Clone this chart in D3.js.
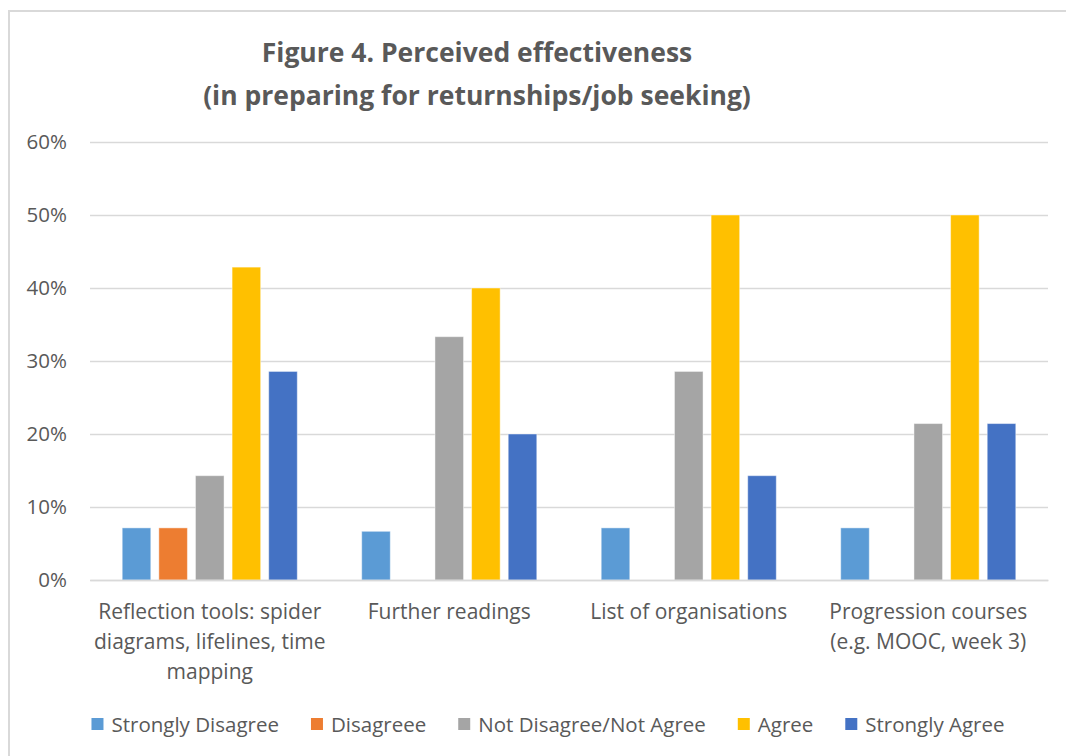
<!DOCTYPE html>
<html>
<head>
<meta charset="utf-8">
<script src="https://cdn.jsdelivr.net/npm/d3@7"></script>
<style>
  html, body { margin: 0; padding: 0; background: #fff; }
  svg { display: block; }
  text { font-family: "Open Sans", "Liberation Sans", sans-serif; fill: #595959; }
</style>
</head>
<body>
<svg id="chart" width="1066" height="756"></svg>
<script>
// ---- data ----
const categories = [
  ["Reflection tools: spider", "diagrams, lifelines, time", "mapping"],
  ["Further readings"],
  ["List of organisations"],
  ["Progression courses", "(e.g. MOOC, week 3)"]
];
const seriesNames = ["Strongly Disagree", "Disagreee", "Not Disagree/Not Agree", "Agree", "Strongly Agree"];
const stronglyDisagree = [0.0714, 0.0667, 0.0714, 0.0714];
const disagree         = [0.0714, 0, 0, 0];
const neutral          = [0.1429, 0.3333, 0.2857, 0.2143];
const agree            = [0.4286, 0.40, 0.50, 0.50];
const stronglyAgree    = [0.2857, 0.20, 0.1429, 0.2143];
const yTicks = [0, 0.1, 0.2, 0.3, 0.4, 0.5, 0.6];
const titleLines = ["Figure 4. Perceived effectiveness", "(in preparing for returnships/job seeking)"];
const colors = ["#5B9BD5", "#ED7D31", "#A5A5A5", "#FFC000", "#4472C4"];

const seriesValues = [stronglyDisagree, disagree, neutral, agree, stronglyAgree];

const svg = d3.select("#chart");
const W = 1066, H = 756;
const plot = { left: 90, right: 1048, top: 142, bottom: 580 };

// chart border (top/left visible)
svg.append("path")
  .attr("d", `M9,${H} L9,11 L${W},11`)
  .attr("fill", "none").attr("stroke", "#d9d9d9").attr("stroke-width", 2);

// title
const title = svg.append("text")
  .attr("x", 477).attr("y", 62)
  .attr("text-anchor", "middle")
  .style("font-size", "26.5px").style("font-weight", "bold");
titleLines.forEach((t, i) => {
  title.append("tspan").attr("x", 477).attr("dy", i === 0 ? 0 : 43).text(t);
});

const y = d3.scaleLinear().domain([0, 0.6]).range([plot.bottom, plot.top]);
const catIdx = categories.map((c, i) => i);
const x0 = d3.scaleBand().domain(catIdx).range([plot.left, plot.right]).paddingInner(0.269).paddingOuter(0.1345);
const x1 = d3.scaleBand().domain(d3.range(seriesNames.length)).range([0, x0.bandwidth()]).paddingInner(0.22).paddingOuter(0);

// gridlines via axis
const yAxis = d3.axisLeft(y).tickValues(yTicks).tickFormat(d3.format(".0%"))
  .tickSize(-(plot.right - plot.left)).tickPadding(23);
const gy = svg.append("g").attr("transform", `translate(${plot.left},0)`).call(yAxis);
gy.select(".domain").remove();
gy.selectAll(".tick line").attr("stroke", "#d9d9d9").attr("stroke-width", 1.3);
gy.selectAll(".tick text").style("font-size", "20.5px").attr("fill", "#595959")
  .style("font-family", '"Open Sans", sans-serif');

// bars
const groups = svg.append("g").selectAll("g")
  .data(catIdx).join("g")
  .attr("transform", d => `translate(${x0(d)},0)`);
groups.selectAll("rect")
  .data(ci => seriesValues.map((vals, si) => ({ si, v: vals[ci] })).filter(d => d.v > 0))
  .join("rect")
  .attr("x", d => x1(d.si))
  .attr("width", x1.bandwidth())
  .attr("y", d => y(d.v))
  .attr("height", d => y(0) - y(d.v))
  .attr("fill", d => colors[d.si])
  .attr("stroke", "#ffffff").attr("stroke-opacity", 0.45).attr("stroke-width", 1);

// category labels
const xAxis = d3.axisBottom(x0).tickSize(0).tickFormat("");
const gx = svg.append("g").attr("transform", `translate(0,${plot.bottom})`).call(xAxis);
gx.select(".domain").attr("stroke", "#d9d9d9").attr("stroke-width", 1.3);
gx.selectAll(".tick").each(function (d) {
  const t = d3.select(this).append("text")
    .attr("text-anchor", "middle").attr("y", 39)
    .style("font-size", "21px").attr("fill", "#595959");
  categories[d].forEach((line, i) => {
    t.append("tspan").attr("x", 0).attr("dy", i === 0 ? 0 : 30).text(line);
  });
});

// legend
const legend = svg.append("g").attr("transform", "translate(0,724)");
const items = legend.selectAll("g").data(seriesNames).join("g");
items.append("rect").attr("width", 12).attr("height", 12).attr("y", -6)
  .attr("fill", (d, i) => colors[i]);
items.append("text").attr("x", 20).attr("y", 7.5).style("font-size", "20.5px").text(d => d);
const gap = 32;
let xpos = 0;
const positions = [];
items.each(function () {
  const w = d3.select(this).select("text").node().getComputedTextLength();
  positions.push(xpos);
  xpos += 20 + w + gap;
});
const total = xpos - gap;
const start = 548 - total / 2;
items.attr("transform", (d, i) => `translate(${start + positions[i]},0)`);
</script>
</body>
</html>
